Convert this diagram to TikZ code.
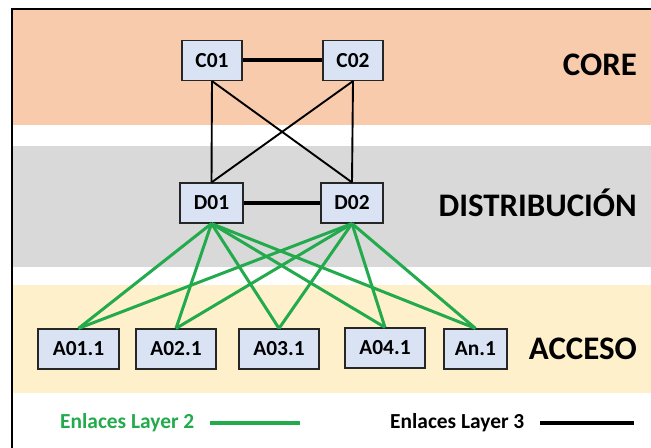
\documentclass[tikz,border=0pt]{standalone}
\usepackage{fontspec}
\setmainfont{Carlito}
\definecolor{corebg}{RGB}{248,203,173}
\definecolor{distbg}{RGB}{217,217,217}
\definecolor{accbg}{RGB}{255,240,204}
\definecolor{boxfill}{RGB}{218,227,243}
\definecolor{linkgreen}{RGB}{34,170,76}
\tikzset{
  sw/.style={draw=black!85, line width=1.2bp, fill=boxfill, inner sep=0pt,
             minimum height=40bp, font=\fontsize{21.5}{24}\selectfont\bfseries},
  layer/.style={anchor=east, inner sep=0pt, font=\fontsize{33}{36}\selectfont\bfseries},
  legend/.style={anchor=west, inner sep=0pt, font=\fontsize{21.5}{24}\selectfont\bfseries},
  l3/.style={draw=black, line width=1.9bp},
  l3thick/.style={draw=black, line width=4bp},
  l2/.style={draw=linkgreen, line width=3bp}
}
\begin{document}
\begin{tikzpicture}[x=1bp,y=-1bp]
\useasboundingbox (0,0) rectangle (651,448);
% layer bands
\fill[corebg] (12,9) rectangle (651,125);
\fill[distbg] (12,146) rectangle (651,267);
\fill[accbg]  (12,285) rectangle (651,393);
% outer frame
\draw[line width=2bp] (12,452) -- (12,9) -- (655,9);

% switches
\node[sw, minimum width=60bp] (c1) at (212,60.5) {C01};
\node[sw, minimum width=60bp] (c2) at (353,60.5) {C02};
\node[sw, minimum width=63bp] (d1) at (211.5,203) {D01};
\node[sw, minimum width=62bp] (d2) at (352,203) {D02};
\node[sw, minimum width=81bp] (a1) at (78.5,349) {A01.1};
\node[sw, minimum width=80bp] (a2) at (176,349) {A02.1};
\node[sw, minimum width=80bp] (a3) at (279,349) {A03.1};
\node[sw, minimum width=80bp] (a4) at (385,348) {A04.1};
\node[sw, minimum width=63bp] (an) at (475.5,349) {An.1};

% layer 3 links
\draw[l3thick] (c1) -- (c2);
\draw[l3thick] (d1) -- (d2);
\draw[l3] (c1.south) -- (d1.north);
\draw[l3] (c1.south) -- (d2.north);
\draw[l3] (c2.south) -- (d1.north);
\draw[l3] (c2.south) -- (d2.north);

% layer 2 links
\foreach \d in {d1,d2}
  \foreach \a in {a1,a2,a3,a4,an}
    \draw[l2] (\d.south) -- (\a.north);

% layer names
\node[layer] (lcore) at (637,65) {CORE};
\node[layer] (ldist) at (637,203) {DISTRIBUCIÓN};
\node[layer] (lacc)  at (637,349) {ACCESO};

% legend
\node[legend, text=linkgreen] (leg2) at (60,423) {Enlaces Layer 2};
\coordinate (g1) at (210,423);
\coordinate (g2) at (300,423);
\draw[draw=linkgreen, line width=4bp] (g1) -- (g2);
\node[legend] (leg3) at (390,423) {Enlaces Layer 3};
\coordinate (k1) at (540,423);
\coordinate (k2) at (634,423);
\draw[l3thick] (k1) -- (k2);
\end{tikzpicture}
\end{document}
